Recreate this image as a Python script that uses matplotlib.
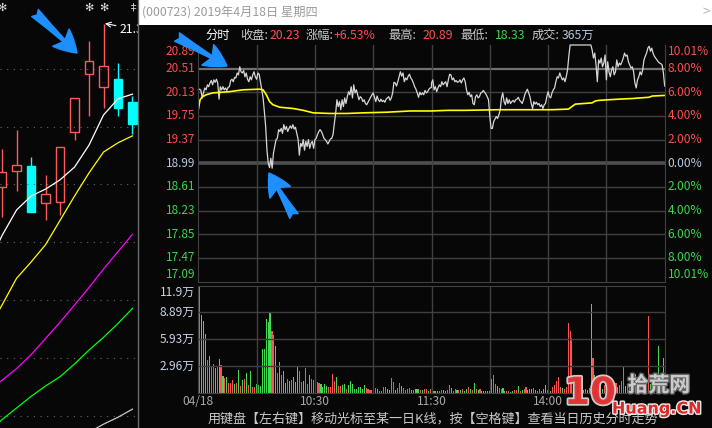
import numpy as np
import matplotlib

matplotlib.use("Agg")
import matplotlib.pyplot as plt
import matplotlib.patheffects as pe
from matplotlib.patches import Rectangle, FancyArrowPatch
from matplotlib.transforms import blended_transform_factory

plt.rcParams["font.family"] = ["Noto Sans CJK SC", "DejaVu Sans"]

BG = "#070707"
RED = "#ff4d4d"
GREEN = "#3cd44f"
CYAN = "#00ffff"
GRID = "#404040"
BLUEGRAY = "#b4c8e2"
VOL_RED = "#ff5252"
VOL_GREEN = "#3fdc52"

# ---------------- left panel: daily candles ----------------
k_open = [19.98, 20.12, 20.16, 19.84, 19.85, 20.45, 20.95, 20.84, 20.91, 20.71]
k_high = [20.31, 20.47, 20.24, 20.08, 20.32, 20.75, 21.24, 21.39, 21.05, 20.76]
k_low = [19.72, 19.94, 19.76, 19.69, 19.74, 20.38, 20.59, 20.66, 20.59, 20.44]
k_close = [20.11, 20.17, 19.76, 19.92, 20.32, 20.75, 21.07, 21.02, 20.66, 20.52]

ma_x = list(range(-1, 10))
ma5 = [19.30, 19.56, 19.78, 19.90, 19.96, 20.04, 20.15, 20.34, 20.60, 20.74, 20.78]
ma10 = [18.74, 18.96, 19.19, 19.33, 19.48, 19.69, 19.90, 20.10, 20.28, 20.36, 20.42]
ma20 = [18.22, 18.31, 18.41, 18.53, 18.67, 18.81, 18.96, 19.11, 19.27, 19.42, 19.57]
ma30 = [17.86, 17.97, 18.07, 18.17, 18.26, 18.34, 18.45, 18.57, 18.68, 18.80, 18.93]
ma60 = [np.nan] * 7 + [17.86, 17.93, 17.99, 18.06]
k_grid = [21.0, 20.5, 20.0, 19.5, 19.0, 18.5, 18.0]
k_marks = [0, 6, 7]
k_marks2 = [9]

# ---------------- intraday (分时) ----------------
prev_close = 18.99
price_am = [
    20.17, 20.18, 20.16, 20.04, 20.12, 20.20, 20.17, 20.25, 20.22, 20.28,
    20.32, 20.25, 20.33, 20.29, 20.34, 20.28, 20.02, 20.22, 20.17, 20.22,
    20.17, 20.20, 20.16, 20.21, 20.22, 20.32, 20.34, 20.30, 20.37, 20.36,
    20.44, 20.41, 20.54, 20.46, 20.44, 20.48, 20.38, 20.44, 20.34, 20.30,
    20.38, 20.33, 20.41, 20.46, 20.38, 20.34, 20.44, 20.42, 20.30, 20.17,
    20.04, 19.82, 19.58, 19.20, 18.99, 18.92, 19.07, 18.91, 19.15, 19.26,
    19.37, 19.39, 19.53, 19.50, 19.55, 19.47, 19.61, 19.53, 19.58, 19.50,
    19.55, 19.59, 19.55, 19.61, 19.54, 19.57, 19.47, 19.38, 19.12, 19.31,
    19.26, 19.37, 19.20, 19.34, 19.26, 19.37, 19.23, 19.31, 19.34, 19.23,
    19.37, 19.39, 19.45, 19.50, 19.53, 19.50, 19.45, 19.39, 19.37, 19.34,
    19.30, 19.34, 19.38, 19.39, 19.45, 19.63, 19.79, 20.01, 19.90, 19.98,
    19.85, 20.01, 19.90, 20.04, 19.95, 20.06, 20.14, 20.09, 20.22, 20.04,
    20.25, 20.12, 20.17, 20.09, 20.01, 20.06, 20.04, 19.98, 20.01, 19.95,
    19.93, 19.97, 20.01, 20.05, 20.09, 20.12, 20.05, 19.98, 20.07, 20.01,
    19.98, 20.02, 19.98, 20.00, 19.97, 20.02, 20.04, 20.06, 20.00, 20.04,
    20.12, 20.29, 20.28, 20.23, 20.30, 20.38, 20.46, 20.39, 20.44, 20.30,
    20.36, 20.33, 20.39, 20.42, 20.36, 20.33, 20.28, 20.22, 20.18, 20.12,
    20.05, 20.13, 20.09, 20.12, 20.09, 20.16, 20.12, 20.14, 20.18, 20.20,
    20.21,
]
price_pm = [
    20.28, 20.33, 20.17, 20.22, 20.14, 20.20, 20.25, 20.22, 20.30, 20.25,
    20.28, 20.30, 20.22, 20.33, 20.42, 20.41, 20.33, 20.36, 20.30, 20.32,
    20.29, 20.30, 20.33, 20.28, 20.33, 20.36, 20.30, 20.17, 20.09, 20.13,
    20.06, 20.09, 19.95, 19.93, 20.06, 20.09, 20.04, 20.06, 20.12, 20.13,
    20.16, 20.13, 20.10, 20.06, 20.01, 19.74, 19.55, 19.55, 19.66, 19.70,
    19.74, 19.71, 19.77, 19.84, 20.04, 20.12, 19.98, 19.93, 20.04, 19.95,
    20.01, 19.95, 19.98, 20.00, 19.97, 20.01, 20.02, 20.05, 20.00, 19.98,
    19.95, 20.01, 20.09, 20.14, 20.18, 20.12, 20.06, 19.95, 19.87, 19.98,
    19.94, 19.97, 19.93, 19.95, 19.90, 19.93, 19.87, 19.93, 19.95, 20.06,
    20.14, 20.06, 20.04, 20.12, 20.17, 20.20, 20.30, 20.38, 20.36, 20.44,
    20.38, 20.33, 20.36, 20.30, 20.38, 20.49, 20.71, 20.89,
    20.89, 20.89, 20.89, 20.89, 20.89, 20.89, 20.89, 20.89,
    20.89, 20.89, 20.89, 20.89, 20.89, 20.89, 20.89, 20.89,
    20.81, 20.68, 20.76, 20.57, 20.30, 20.65, 20.60, 20.68, 20.54, 20.60,
    20.73, 20.33, 20.62, 20.46, 20.38, 20.49, 20.54, 20.41, 20.46, 20.65,
    20.54, 20.60, 20.57, 20.62, 20.68, 20.76, 20.71, 20.73, 20.62, 20.57,
    20.52, 20.54, 20.46, 20.28, 20.20, 20.33, 20.38, 20.46, 20.41, 20.49,
    20.65, 20.71, 20.76, 20.84, 20.87, 20.79, 20.84, 20.76, 20.71, 20.68,
    20.65, 20.62, 20.60, 20.59, 20.57, 20.44, 20.23,
]
avg_minutes = [0, 0.9, 2.2, 4, 7.4, 16, 23, 31.6, 33.3, 35, 36.7, 38.4, 41.9,
               48.8, 54, 59.1, 67.8, 76.4, 85, 97, 109, 120, 128.4, 137, 154.3,
               171.6, 181.9, 190.5, 192.2, 194, 202.6, 204.3, 206, 216.4, 223.3,
               231.9, 233.6, 240]
avg_price = [19.85, 20.01, 20.06, 20.09, 20.12, 20.14, 20.17, 20.18, 20.17, 20.09,
             19.98, 19.93, 19.89, 19.87, 19.84, 19.80, 19.79, 19.79, 19.80, 19.81,
             19.83, 19.83, 19.84, 19.84, 19.85, 19.85, 19.85, 19.86, 19.90, 19.94,
             19.96, 19.99, 20.00, 20.02, 20.03, 20.05, 20.07, 20.08]

# volume in 万, one bar per minute; r = up tick, g = down tick
vol_am = [
    11.89, 8.63, 7.96, 6.52, 3.63, 4.07, 2.96, 3.19, 2.74, 2.89,
    3.74, 3.07, 1.85, 1.63, 1.74, 1.07, 1.07, 1.41, 0.96, 1.07,
    2.52, 0.74, 1.41, 1.52, 2.19, 0.85, 2.41, 0.63, 0.63, 0.96,
    0.85, 0.74, 4.85, 4.85, 8.19, 7.85, 8.96, 6.85, 6.41, 5.19,
    2.19, 3.41, 1.96, 2.41, 1.07, 1.52, 1.30, 1.41, 1.74, 1.19,
    2.96, 2.41, 1.19, 1.30, 2.74, 0.96, 1.96, 1.52, 1.41, 1.74,
    1.19, 1.07, 0.96, 0.63, 0.96, 0.74, 0.63, 0.63, 2.07, 1.30,
    1.74, 0.74, 0.74, 0.85, 0.96, 0.41, 0.85, 1.30, 0.96, 0.41,
    0.41, 0.63, 0.63, 0.41, 0.85, 0.52, 0.41, 0.30, 0.30, 0.52,
    0.52, 0.41, 0.19, 0.19, 0.63, 0.63, 0.41, 0.30, 1.63, 1.19,
    0.30, 0.52, 1.07, 0.74, 0.52, 0.30, 0.41, 0.52, 0.30, 0.30,
    0.41, 0.41, 0.41, 0.30, 0.30, 0.41, 0.41, 0.19, 0.41,
]
vol_am_dir = ("rgggrgrrgr" "grgrgrrrgr" "grgrgrgrrg" "gggggggrrg" "rgrggrgrgg"
              "grrgrrgrrg" "rrggggrrrr" "grrggrgggg" "gggggrrrrg" "rgrrrrggrr"
              "grrgrrrrgr" "gggrgrrgr")
vol_pm = [
    0.85, 0.19, 0.19, 0.19, 0.19, 0.30, 0.30, 0.19, 0.30, 0.85,
    0.52, 0.19, 0.41, 0.30, 0.30, 0.30, 0.41, 0.19, 0.41, 0.63,
    0.41, 0.30, 1.07, 0.41, 0.30, 0.41, 0.19, 0.19, 0.19, 0.19,
    0.19, 1.52, 1.96, 0.96, 0.74, 0.52, 0.41, 0.52, 0.19, 0.19,
    0.19, 0.07, 0.19, 0.30, 0.30, 0.74, 0.19, 0.30, 0.41, 0.63,
    0.30, 0.41, 0.41, 0.52, 0.30, 0.19, 0.41, 0.19, 0.41, 0.85,
    0.30, 0.30, 0.19, 0.63, 0.85, 1.30, 1.74, 0.63, 0.52, 0.41,
    0.63, 7.74, 6.85, 6.07, 0.30, 0.30, 0.41, 0.30, 0.52, 0.30,
    0.41, 0.30, 0.52, 9.85, 3.85, 1.96, 0.96, 0.41, 0.63, 0.41,
    0.85, 0.52, 0.52, 0.30, 0.74, 0.41, 1.07, 0.63, 0.85, 1.30,
    2.85, 0.74, 0.96, 0.52, 0.74, 0.96, 2.07, 0.74, 0.52, 0.63,
    0.30, 0.85, 1.07, 8.52, 0.96, 0.74, 0.52, 0.85, 5.19, 0.74,
    0.96, 3.85,
]
vol_pm_dir = ("rgggrrggrr" "grrgrgrggr" "grgrgrgggg" "ggrrgrrggr" "rggrrgrgrr"
              "gggrgrrggg" "rrgrrrrrgr" "rrrrrgrgrg" "rgrgrgrgrg" "rgrgrgrgrr"
              "rgrgrggrgr" "grrrgrgrgr" "gg")

price_ticks = [20.89, 20.51, 20.13, 19.75, 19.37, 18.99, 18.61, 18.23, 17.85, 17.47, 17.09]
pct_labels = ["10.01%", "8.00%", "6.00%", "4.00%", "2.00%", "0.00%",
              "2.00%", "4.00%", "6.00%", "8.00%", "10.01%"]
vol_ticks = [2.965, 5.93, 8.895, 11.86]
vol_labels = ["2.96万", "5.93万", "8.89万", "11.9万"]
time_ticks = [0, 60, 120, 180]
time_labels = ["04/18", "10:30", "11:30", "14:00"]

title_text = "(000723) 2019年4月18日 星期四"
info_text = ["分时", "收盘:", "20.23", "涨幅:", "+6.53%", "最高:", "20.89",
             "最低:", "18.33", "成交:", "365万"]
info_color = ["#ffffff", "#c8c8c8", RED, "#c8c8c8", RED, "#c8c8c8", RED,
              "#c8c8c8", GREEN, "#c8c8c8", BLUEGRAY]
info_x = [205, 240, 270, 306, 333, 388, 423, 460, 495, 532, 562]
help_text = "用键盘【左右键】移动光标至某一日K线，按【空格键】查看当日历史分时走势"
arrows = [((35, 13), (77, 53)), ((177, 37), (227, 66)), ((294, 216), (269, 173))]

W, H = 712, 428
fig = plt.figure(figsize=(W / 100, H / 100), dpi=100, facecolor=BG)


def box(x0, y0, x1, y1):
    return [x0 / W, 1 - y1 / H, (x1 - x0) / W, (y1 - y0) / H]


# ---- daily K ----
ax_k = fig.add_axes(box(0, 0, 137.7, 428))
ax_k.set_xlim(-0.145, 9.36)
ax_k.set_ylim(17.897, 21.593)
ax_k.axis("off")
for g in k_grid:
    ax_k.axhline(g, color="#6a6a6a", lw=0.8, ls=(0, (1, 5)))
for i, (o, h, l, c) in enumerate(zip(k_open, k_high, k_low, k_close)):
    up = c >= o
    col = "#ff5a5a" if up else CYAN
    lo, hi = min(o, c), max(o, c)
    ax_k.vlines(i, hi, h, color=col, lw=1)
    ax_k.vlines(i, l, lo, color=col, lw=1)
    ax_k.add_patch(Rectangle((i - 0.29, lo), 0.58, hi - lo,
                             facecolor=BG if up else col, edgecolor=col, lw=1))
for vals, col in [(ma5, "#ffffff"), (ma10, "#ffff00"), (ma20, "#ff00ff"),
                  (ma30, "#00ff00"), (ma60, "#c8c8c8")]:
    ax_k.plot(ma_x, vals, color=col, lw=0.9)
top = int(np.argmax(k_high))
ax_k.annotate(f"{k_high[top]:.2f}", xy=(top + 0.1, k_high[top]),
              xytext=(top + 1.14, k_high[top] - 0.05), color="white",
              fontsize=8.8, ha="left", va="center", clip_on=True,
              arrowprops=dict(arrowstyle="->", color="white", lw=0.8,
                              shrinkA=1, shrinkB=0))
for i in k_marks:
    ax_k.text(i, 21.525, "✻", color="#dddddd", fontsize=8, ha="center",
              va="center", clip_on=True)
for i in k_marks2:
    ax_k.text(i, 21.525, "‡", color="#dddddd", fontsize=8, ha="center",
              va="center", clip_on=True)

# ---- price panel ----
ax_p = fig.add_axes(box(198.3, 45, 664.7, 281.5))
ax_p.set_facecolor(BG)
ax_p.set_xlim(0, 240)
ax_p.set_ylim(price_ticks[-1], price_ticks[0])
ax_p.set_xticks([])
ax_p.set_yticks([])
for s in ax_p.spines.values():
    s.set_color(GRID)
ax_p.spines["top"].set_visible(False)
for p in price_ticks[1:-1]:
    if p == prev_close:
        ax_p.axhline(p, color="#4e4e4e", lw=2.6)
    elif p == price_ticks[1]:
        ax_p.axhline(p, color="#707070", lw=1.6)
    else:
        ax_p.axhline(p, color=GRID, lw=1)
for t in range(30, 240, 30):
    ax_p.axvline(t, color=GRID, lw=1)

t_am = np.linspace(0, 120, len(price_am))
t_pm = np.linspace(120, 240, len(price_pm))
ax_p.plot(np.r_[t_am, t_pm], np.r_[price_am, price_pm], color="#d6d6d6",
          lw=0.9, clip_on=False)
ax_p.plot(avg_minutes, avg_price, color="#ffff00", lw=1.2)

tr = blended_transform_factory(ax_p.transAxes, ax_p.transData)
for k, (p, pct) in enumerate(zip(price_ticks, pct_labels)):
    col = RED if p > prev_close else (GREEN if p < prev_close else BLUEGRAY)
    va = "top" if k == 0 else ("bottom" if k == len(price_ticks) - 1 else "center")
    ax_p.text(-0.007, p, f"{p:.2f}", transform=tr, ha="right", va=va,
              color=col, fontsize=8.5)
    ax_p.text(1.006, p, pct, transform=tr, ha="left", va=va, color=col,
              fontsize=8.6)

# ---- volume panel ----
ax_v = fig.add_axes(box(198.3, 285.5, 664.7, 392.7))
ax_v.set_facecolor(BG)
ax_v.set_xlim(0, 240)
ax_v.set_ylim(0, vol_ticks[-1])
ax_v.set_xticks([])
ax_v.set_yticks([])
for s in ax_v.spines.values():
    s.set_color(GRID)
for v in vol_ticks[:-1]:
    ax_v.axhline(v, color=GRID, lw=1)
for t in range(30, 240, 30):
    ax_v.axvline(t, color=GRID, lw=1)
ax_v.bar(np.linspace(0.6, 119.6, len(vol_am)), vol_am, width=0.55, linewidth=0,
         antialiased=False,
         color=[VOL_RED if d == "r" else VOL_GREEN for d in vol_am_dir])
ax_v.bar(np.linspace(120.3, 239.6, len(vol_pm)), vol_pm, width=0.55, linewidth=0,
         antialiased=False,
         color=[VOL_RED if d == "r" else VOL_GREEN for d in vol_pm_dir])

trv = blended_transform_factory(ax_v.transAxes, ax_v.transData)
for v, lab in zip(vol_ticks, vol_labels):
    va = "top" if v == vol_ticks[-1] else "center"
    ax_v.text(-0.007, v, lab, transform=trv, ha="right", va=va,
              color="#c8d2e6", fontsize=8.6)
trt = blended_transform_factory(ax_v.transData, ax_v.transAxes)
for t, lab in zip(time_ticks, time_labels):
    ax_v.text(t, -0.084, lab, transform=trt, ha="center", va="center",
              color="#a8a8a8", fontsize=8.6)

# ---- overlay: header, texts, arrows, watermark ----
ax_o = fig.add_axes([0, 0, 1, 1])
ax_o.set_xlim(0, W)
ax_o.set_ylim(H, 0)
ax_o.axis("off")
ax_o.add_patch(Rectangle((138.5, 0), W - 138.5, 25, facecolor="white",
                         edgecolor="none"))
ax_o.plot([137.7, 137.7], [0, H], color="#6a6a6a", lw=1)
ax_o.text(142, 12.5, title_text, color="#9a9a9a", fontsize=8.8,
          ha="left", va="center")
ax_o.text(706, 12, ">", color="#b8b8b8", fontsize=10, ha="center", va="center")
for s, c, x in zip(info_text, info_color, info_x):
    ax_o.text(x, 35, s, color=c, fontsize=8.8, ha="left", va="center")
ax_o.text(208, 419, help_text, color="#c8c8c8", fontsize=9.4, ha="left",
          va="center")

for tail, tip in arrows:
    ax_o.add_patch(FancyArrowPatch(
        tail, tip, arrowstyle="fancy,head_length=0.8,head_width=0.85,tail_width=0.35",
        mutation_scale=20, color="#1e8fff", shrinkA=0, shrinkB=0, zorder=5))

ax_o.text(590, 394, "10", color="#e23232", fontsize=27, fontweight="bold",
          ha="center", va="center", alpha=0.95, family="DejaVu Sans",
          path_effects=[pe.withStroke(linewidth=2.5, foreground="#d8d8d8")])
ax_o.text(659, 385, "拾荒网", color="#d0d0d0", fontsize=15, fontweight="bold",
          ha="center", va="center", alpha=0.95,
          path_effects=[pe.withStroke(linewidth=2, foreground="#666666")])
ax_o.text(657, 409, "Huang.CN", color="#e02828", fontsize=11.5,
          fontweight="bold", ha="center", va="center", family="DejaVu Sans",
          path_effects=[pe.withStroke(linewidth=2, foreground="#eeeeee")])

fig.savefig("out.png", dpi=100, facecolor=BG)
